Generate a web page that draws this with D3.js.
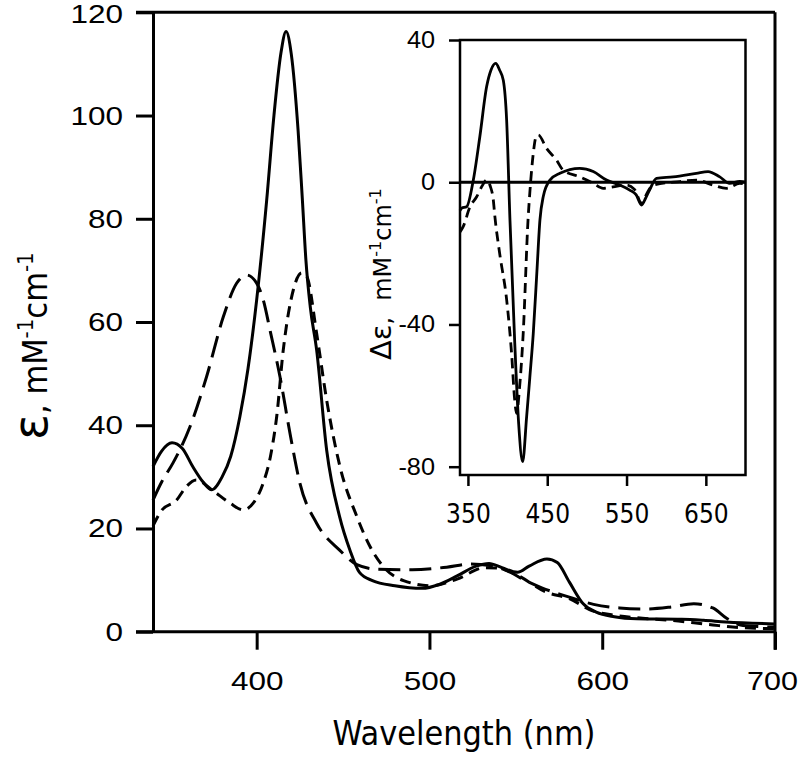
<!DOCTYPE html>
<html>
<head>
<meta charset="utf-8">
<script src="https://cdn.jsdelivr.net/npm/d3@7"></script>
<style>
  html, body { margin: 0; padding: 0; background: #fff; }
  svg { display: block; }
</style>
</head>
<body>
<script>
// ---------------- DATA ----------------
// Main panel: absorption spectra (wavelength nm, epsilon mM^-1 cm^-1)
const solidWl = [340,345,351,357,363,369,374,380,385,390.3,395,400,405.8,410,414,417,420,424,426.4,428.5,431,434.7,440.5,448,454,459.5,467,480,495.7,506,516,527,534.5,542,551,557.7,568,574,581,589,596.5,607,620,646,658.6,671.5,700];
const solidEps = [32,35,36.6,35.5,32,29,27.5,30,34,41.7,51,64.3,83.6,100,112,116.3,112,97,84,72,63,54.6,35.2,22.3,15.8,11.5,9.9,8.9,8.4,9.2,10.8,12.7,13.2,12.4,11.5,12.7,14.1,13.4,9.6,5.4,3.8,2.9,2.5,2.4,2.2,1.9,1.5];

const longWl = [340,345,351.6,361.4,371,380.7,388.4,394.2,400,403.8,408,413.5,419.3,425,434.7,448,458,470,490,510,524,535,545,555,565,580,595,610,625,640,653,664,672,680,690,700];
const longEps = [25.5,29,32.7,39.7,49.4,61,67.5,69.1,67.5,64.3,58,49.4,38.4,28.8,21,15.8,13,12.1,12,12.5,13.1,12.8,11.8,10,8.5,6.8,5.3,4.6,4.4,4.8,5.4,4.6,2.6,1.3,1,0.9];

const shortWl = [340,345,353.7,359,365,374,384.6,392.3,398,403.8,408,411.6,415.4,421.2,426,429,434.7,440.5,448.2,458,465.6,475,485,501,516,532,540,550,568,581,594,607,620,640,664,680,700];
const shortEps = [20.5,23.5,25.5,28,29.4,27.5,24.9,23.6,24.9,28.8,34,41.7,54.6,66.2,69.5,68.8,57.8,44.9,32,22.3,16.5,12,9.9,8.9,10.2,12.4,12.3,11.1,7.6,6.4,4.1,3.2,2.7,2.2,1.3,0.8,0.6];

// Inset: CD difference spectra (wavelength nm, delta-epsilon)
const insetSolidWl = [340,342,348.4,356.8,365,373.6,379,385,390,394.6,398.8,403,409,414,419,424,428,432.4,437,440.8,445,453.4,466,491,508,524.8,541.6,554,562,569,574,579,587.8,608.7,638,652.8,667.6,680,692.8,700];
const insetSolidD = [-8,-7.3,-6.9,0.6,12.8,26.9,31.5,33.4,31.5,28.7,17.5,-10.6,-45,-68,-78.6,-66,-55,-42.5,-25,-10.6,-4,0.6,2.5,3.9,3.0,0.6,-0.8,-2.2,-3.5,-6.4,-4.5,-2.2,1.1,1.5,2.5,3.0,1.5,-0.3,0.2,0];

const insetDashWl = [340,344,352.6,361,368,373.6,378,382,384,390,398.8,405,409,411.4,415,419.7,426,428,432.4,435.5,438.7,449.2,461.8,470,491,508,520.6,533,550,560,569,576,583.5,617,638,659,676,692.8,700];
const insetDashD = [-14,-12.5,-6.9,-4.1,-1,0.6,-1,-5,-9.7,-20,-33,-48,-61.3,-65,-58,-42.5,-9.7,-3.1,8.1,12.5,13.3,9.5,6.2,3.4,1.5,-0.3,-1.7,-1.3,-0.8,-2,-5.9,-3,-0.8,0.2,0.6,-0.8,-1.7,-0.3,-0.5];

const mainXTicks = [400,500,600,700];
const mainYTicks = [0,20,40,60,80,100,120];
const insetXTicks = [350,450,550,650];
const insetYTicks = [-80,-40,0,40];

// ---------------- DRAW ----------------
const W = 800, H = 757;
const svg = d3.select("body").append("svg").attr("width", W).attr("height", H);
svg.append("rect").attr("width", W).attr("height", H).attr("fill", "#fff");

const tickFont = "'Liberation Sans', Arial, sans-serif";
const titleFont = "'DejaVu Sans Condensed', 'DejaVu Sans', sans-serif";
const LW = 3;
const fmt = d => String(d);   // plain hyphen for negatives, as in the figure

// Main scales
const x = d3.scaleLinear().domain([340, 700]).range([153, 775]);
const y = d3.scaleLinear().domain([0, 120]).range([631.7, 12.3]);

const main = svg.append("g");

// frame lines (top and right)
main.append("line").attr("x1", x(340) - 17).attr("x2", x(700)).attr("y1", y(120)).attr("y2", y(120))
  .attr("stroke", "#000").attr("stroke-width", LW);
main.append("line").attr("x1", x(700)).attr("x2", x(700)).attr("y1", y(120)).attr("y2", y(0) + 18)
  .attr("stroke", "#000").attr("stroke-width", LW);

// Left axis
const yAxis = d3.axisLeft(y).tickValues(mainYTicks).tickSize(17).tickSizeOuter(0).tickFormat(fmt);
const gy = main.append("g").attr("transform", `translate(${x(340)},0)`).call(yAxis);
gy.select(".domain").attr("stroke-width", LW);
gy.selectAll(".tick line").attr("stroke-width", LW);
gy.selectAll(".tick text").attr("x", 0).attr("transform", "translate(-30,0) scale(1.26,1)")
  .attr("dy", d => d === 120 ? "0.42em" : "0.34em")
  .attr("font-family", tickFont).attr("font-size", 25).attr("fill", "#000");

// Bottom axis
const xAxis = d3.axisBottom(x).tickValues(mainXTicks).tickSize(18).tickSizeOuter(0).tickPadding(23).tickFormat(fmt);
const gx = main.append("g").attr("transform", `translate(0,${y(0)})`).call(xAxis);
gx.select(".domain").attr("d", `M${x(340) - 17},0H${x(700)}`).attr("stroke-width", LW);
gx.selectAll(".tick line").attr("stroke-width", LW);
gx.selectAll(".tick text")
  .attr("transform", d => d === 700 ? "translate(-3,0) scale(1.22,1)" : "scale(1.26,1)")
  .attr("font-family", tickFont).attr("font-size", 25).attr("fill", "#000");

// Curves
const lineMain = d3.line().x(d => x(d[0])).y(d => y(d[1])).curve(d3.curveMonotoneX);
const zip = (a, b) => a.map((v, i) => [v, b[i]]);
main.append("path").datum(zip(solidWl, solidEps)).attr("d", lineMain)
  .attr("fill", "none").attr("stroke", "#000").attr("stroke-width", LW);
main.append("path").datum(zip(longWl, longEps)).attr("d", lineMain)
  .attr("fill", "none").attr("stroke", "#000").attr("stroke-width", LW).attr("stroke-dasharray", "22,9");
main.append("path").datum(zip(shortWl, shortEps)).attr("d", lineMain)
  .attr("fill", "none").attr("stroke", "#000").attr("stroke-width", LW).attr("stroke-dasharray", "11,7");

// Axis titles
main.append("text").attr("x", 464).attr("y", 745).attr("text-anchor", "middle")
  .attr("font-family", titleFont).attr("font-size", 34).attr("fill", "#000")
  .attr("textLength", 263).attr("lengthAdjust", "spacingAndGlyphs").text("Wavelength (nm)");

const yt = main.append("text").attr("transform", "translate(47,440) rotate(-90)").attr("text-anchor", "start")
  .attr("font-family", titleFont).attr("font-size", 34).attr("fill", "#000");
yt.append("tspan").attr("font-family", "'DejaVu Sans', sans-serif").attr("font-size", 48).text("ε");
yt.append("tspan").text(", mM");
yt.append("tspan").attr("dy", -14).attr("font-size", 22).text("-1");
yt.append("tspan").attr("dy", 14).text("cm");
yt.append("tspan").attr("dy", -14).attr("font-size", 22).text("-1");

// ---------------- INSET ----------------
const ix = d3.scaleLinear().domain([340, 700]).range([460, 745.5]);
const iy = d3.scaleLinear().domain([-80, 40]).range([466.7, 40]);
const iBottom = 475;
const inset = svg.append("g");

inset.append("rect").attr("x", ix(340)).attr("y", iy(40)).attr("width", ix(700) - ix(340)).attr("height", iBottom - iy(40))
  .attr("fill", "#fff").attr("stroke", "#000").attr("stroke-width", 2.5);

const iyAxis = d3.axisLeft(iy).tickValues(insetYTicks).tickSize(11).tickSizeOuter(0).tickFormat(fmt);
const giy = inset.append("g").attr("transform", `translate(${ix(340)},0)`).call(iyAxis);
giy.select(".domain").remove();
giy.selectAll(".tick line").attr("stroke-width", 2.5);
giy.selectAll(".tick text").attr("x", 0).attr("transform", "translate(-25,0) scale(1.1,1)")
  .attr("font-family", tickFont).attr("font-size", 23).attr("fill", "#000");

const ixAxis = d3.axisBottom(ix).tickValues(insetXTicks).tickSize(11).tickSizeOuter(0).tickPadding(19).tickFormat(fmt);
const gix = inset.append("g").attr("transform", `translate(0,${iBottom})`).call(ixAxis);
gix.select(".domain").remove();
gix.selectAll(".tick line").attr("stroke-width", 2.5);
gix.selectAll(".tick text").attr("font-family", titleFont).attr("font-size", 26).attr("fill", "#000");

// zero line
inset.append("line").attr("x1", ix(340)).attr("x2", ix(700)).attr("y1", iy(0)).attr("y2", iy(0))
  .attr("stroke", "#000").attr("stroke-width", 3);

const lineInset = d3.line().x(d => ix(d[0])).y(d => iy(d[1])).curve(d3.curveMonotoneX);
inset.append("path").datum(zip(insetSolidWl, insetSolidD)).attr("d", lineInset)
  .attr("fill", "none").attr("stroke", "#000").attr("stroke-width", 2.8);
inset.append("path").datum(zip(insetDashWl, insetDashD)).attr("d", lineInset)
  .attr("fill", "none").attr("stroke", "#000").attr("stroke-width", 2.8).attr("stroke-dasharray", "10,6");

const iyt = inset.append("text").attr("transform", "translate(391,360) rotate(-90)").attr("text-anchor", "start")
  .attr("font-family", "'DejaVu Sans', sans-serif").attr("font-size", 24).attr("fill", "#000");
iyt.append("tspan").attr("font-size", 29).text("Δε");
iyt.append("tspan").text(",");
iyt.append("tspan").attr("dx", 16).text("mM");
iyt.append("tspan").attr("dy", -10).attr("font-size", 16).text("-1");
iyt.append("tspan").attr("dy", 10).text("cm");
iyt.append("tspan").attr("dy", -10).attr("font-size", 16).text("-1");
</script>
</body>
</html>
